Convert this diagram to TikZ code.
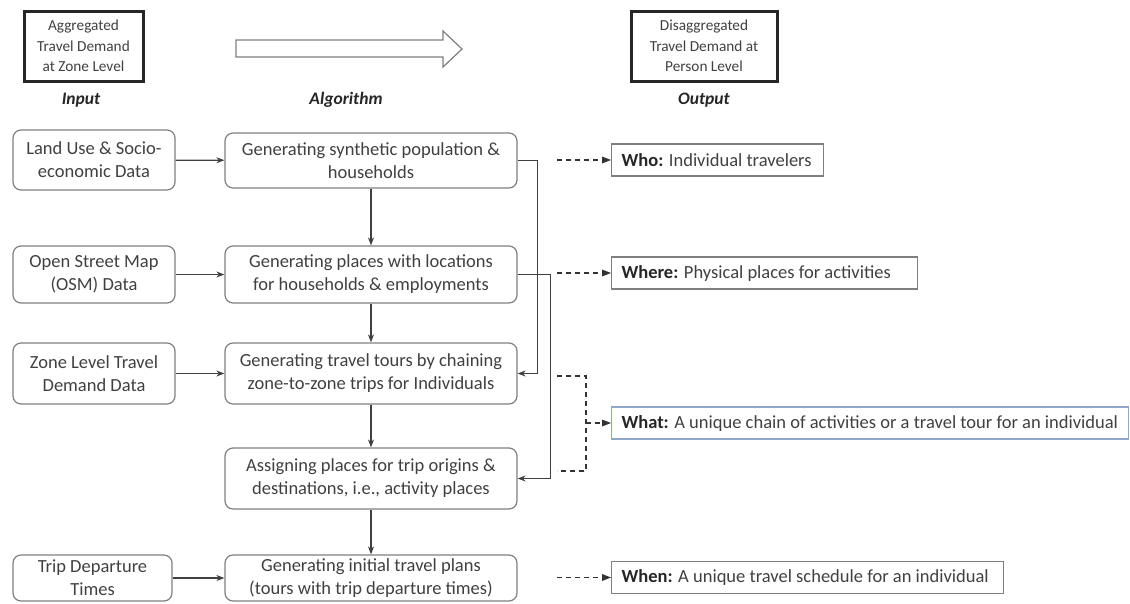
\documentclass[tikz,border=0pt]{standalone}
\usepackage{fontspec}
\setmainfont{Carlito}
\usetikzlibrary{calc, arrows.meta}
\definecolor{Ink}{HTML}{404040}
\definecolor{Frame}{HTML}{7F7F7F}
\definecolor{SoftBlue}{HTML}{8EA6C9}

\newcommand{\answerline}[3]{\makebox[#1][l]{\textbf{\color{black!85}#2:} #3}}

\tikzset{
  stagebox/.style={draw=Frame, line width=1.2pt, rounded corners=8pt, align=center, text=Ink,
    font=\fontsize{18.5}{23}\selectfont, inner sep=1pt},
  levelbox/.style={draw=black!85, line width=3pt, align=center, text=Ink,
    font=\fontsize{15.3}{20.5}\selectfont, inner sep=1pt},
  answerbox/.style={draw=Frame, line width=1.2pt, anchor=west, text=Ink, minimum height=32pt,
    font=\fontsize{18.5}{22}\selectfont, inner xsep=10pt, inner ysep=0pt},
  colhead/.style={font=\fontsize{17.5}{21}\selectfont\bfseries\itshape, text=black!85},
  flow/.style={draw=Ink, line width=1.3pt, -{Stealth[length=8pt, width=6pt]}},
  hint/.style={draw=black!80, line width=1.3pt, dash pattern=on 5pt off 4pt},
}

\begin{document}
\begin{tikzpicture}[x=1pt, y=-1pt]
  \useasboundingbox (0,0) rectangle (1130,603);

  \node[levelbox, minimum width=119pt, minimum height=70pt] (aggr) at (83.5,46)
    {Aggregated\\Travel Demand\\at Zone Level};
  \node[levelbox, minimum width=146pt, minimum height=70pt] (disaggr) at (704,46)
    {Disaggregated\\Travel Demand at\\Person Level};
  \draw[draw=Frame, line width=1.2pt, fill=white]
    (236,40) -- (443,40) -- (443,31) -- (462,49) -- (443,67) -- (443,57) -- (236,57) -- cycle;

  \node[colhead] (hin) at (81,100) {Input};
  \node[colhead] (halg) at (346,100) {Algorithm};
  \node[colhead] (hout) at (704,100) {Output};

  \node[stagebox, minimum width=162pt, minimum height=60pt] (landuse) at (94,160)
    {Land Use \& Socio-\\economic Data};
  \node[stagebox, minimum width=162pt, minimum height=57pt] (osm) at (94,274.5)
    {Open Street Map\\(OSM) Data};
  \node[stagebox, minimum width=162pt, minimum height=61pt] (zonedem) at (94,373.5)
    {Zone Level Travel\\Demand Data};
  \node[stagebox, minimum width=159pt, minimum height=46pt] (deptime) at (92.5,578)
    {Trip Departure\\Times};

  \node[stagebox, minimum width=292pt, minimum height=55pt] (synth) at (371,160.5)
    {Generating synthetic population \&\\households};
  \node[stagebox, minimum width=292pt, minimum height=57pt] (places) at (371,274.5)
    {Generating places with locations\\for households \& employments};
  \node[stagebox, minimum width=292pt, minimum height=61pt] (tours) at (371,373.5)
    {Generating travel tours by chaining\\zone-to-zone trips for Individuals};
  \node[stagebox, minimum width=292pt, minimum height=61pt] (assign) at (371,478.5)
    {Assigning places for trip origins \&\\destinations, i.e., activity places};
  \node[stagebox, minimum width=292pt, minimum height=46pt] (plans) at (371,578)
    {Generating initial travel plans\\(tours with trip departure times)};

  \node[answerbox] (who) at (611,160) {\answerline{192pt}{Who}{Individual travelers}};
  \node[answerbox] (where) at (611,273) {\answerline{286pt}{Where}{Physical places for activities}};
  \node[answerbox, draw=SoftBlue] (what) at (611,423) {\answerline{497pt}{What}{A unique chain of activities or a travel tour for an individual}};
  \node[answerbox] (when) at (611,577.5) {\answerline{372pt}{When}{A unique travel schedule for an individual}};

  \draw[flow] (landuse) -- (synth);
  \draw[flow] (osm) -- (places);
  \draw[flow] (zonedem) -- (tours);
  \draw[flow] (deptime) -- (plans);
  \draw[flow] (synth) -- (places);
  \draw[flow] (places) -- (tours);
  \draw[flow] (tours) -- (assign);
  \draw[flow] (assign) -- (plans);
  \draw[flow] (synth.east) -- ++(20,0) |- (tours.east);
  \draw[flow] (places.east) -- ++(33,0) |- (assign.east);

  \coordinate (whofrom) at (557,160);
  \coordinate (wherefrom) at (557,273);
  \coordinate (whatup) at (557,376);
  \coordinate (whatdown) at (557,471);
  \coordinate (whatjoin) at (586,423);
  \coordinate (whenfrom) at (557,577.5);
  \draw[hint] (whofrom) -- (who.west);
  \draw[hint] (wherefrom) -- (where.west);
  \draw[hint] (whatup) -| (whatjoin) |- (whatdown);
  \draw[hint] (whatjoin) -- (what.west);
  \draw[hint] (whenfrom) -- (when.west);
  \foreach \tgt in {who, where, what, when}
    \fill[black!80] (\tgt.west) -- ++(-9,-3.5) -- ++(0,7) -- cycle;
\end{tikzpicture}
\end{document}
